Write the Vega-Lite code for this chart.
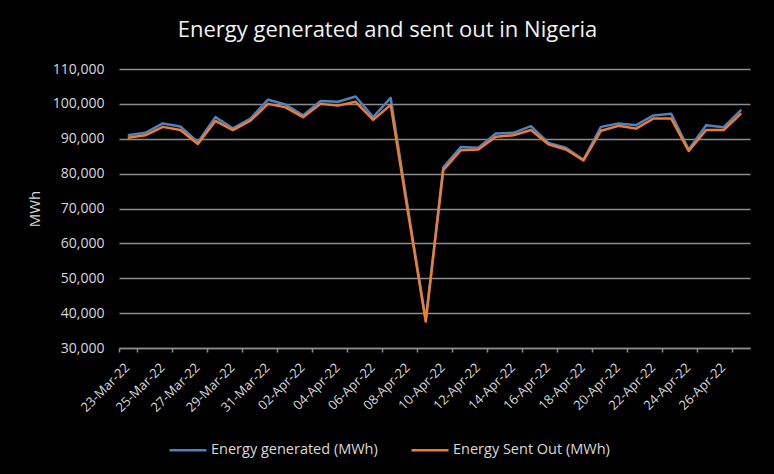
{
  "$schema": "https://vega.github.io/schema/vega-lite/v6.json",
  "background": "#000000",
  "autosize": {"type": "none"},
  "padding": {"left": 119, "top": 69, "right": 24, "bottom": 126},
  "width": 631,
  "height": 279,
  "title": {
    "text": "Energy generated and sent out in Nigeria",
    "anchor": "middle",
    "frame": "group",
    "dx": -47,
    "offset": 20,
    "font": "Open Sans",
    "fontSize": 22,
    "fontWeight": "normal",
    "color": "#f2f2f2"
  },
  "data": {
    "values": [
      {"date": "23-Mar-22", "series": "Energy generated (MWh)", "mwh": 91000},
      {"date": "24-Mar-22", "series": "Energy generated (MWh)", "mwh": 91700},
      {"date": "25-Mar-22", "series": "Energy generated (MWh)", "mwh": 94400},
      {"date": "26-Mar-22", "series": "Energy generated (MWh)", "mwh": 93500},
      {"date": "27-Mar-22", "series": "Energy generated (MWh)", "mwh": 89000},
      {"date": "28-Mar-22", "series": "Energy generated (MWh)", "mwh": 96200},
      {"date": "29-Mar-22", "series": "Energy generated (MWh)", "mwh": 93000},
      {"date": "30-Mar-22", "series": "Energy generated (MWh)", "mwh": 95800},
      {"date": "31-Mar-22", "series": "Energy generated (MWh)", "mwh": 101200},
      {"date": "01-Apr-22", "series": "Energy generated (MWh)", "mwh": 99800},
      {"date": "02-Apr-22", "series": "Energy generated (MWh)", "mwh": 96700},
      {"date": "03-Apr-22", "series": "Energy generated (MWh)", "mwh": 100800},
      {"date": "04-Apr-22", "series": "Energy generated (MWh)", "mwh": 100600},
      {"date": "05-Apr-22", "series": "Energy generated (MWh)", "mwh": 102100},
      {"date": "06-Apr-22", "series": "Energy generated (MWh)", "mwh": 96200},
      {"date": "07-Apr-22", "series": "Energy generated (MWh)", "mwh": 101700},
      {"date": "08-Apr-22", "series": "Energy generated (MWh)", "mwh": 69500},
      {"date": "09-Apr-22", "series": "Energy generated (MWh)", "mwh": 38000},
      {"date": "10-Apr-22", "series": "Energy generated (MWh)", "mwh": 81800},
      {"date": "11-Apr-22", "series": "Energy generated (MWh)", "mwh": 87600},
      {"date": "12-Apr-22", "series": "Energy generated (MWh)", "mwh": 87400},
      {"date": "13-Apr-22", "series": "Energy generated (MWh)", "mwh": 91500},
      {"date": "14-Apr-22", "series": "Energy generated (MWh)", "mwh": 91700},
      {"date": "15-Apr-22", "series": "Energy generated (MWh)", "mwh": 93600},
      {"date": "16-Apr-22", "series": "Energy generated (MWh)", "mwh": 88800},
      {"date": "17-Apr-22", "series": "Energy generated (MWh)", "mwh": 87400},
      {"date": "18-Apr-22", "series": "Energy generated (MWh)", "mwh": 84000},
      {"date": "19-Apr-22", "series": "Energy generated (MWh)", "mwh": 93400},
      {"date": "20-Apr-22", "series": "Energy generated (MWh)", "mwh": 94400},
      {"date": "21-Apr-22", "series": "Energy generated (MWh)", "mwh": 93900},
      {"date": "22-Apr-22", "series": "Energy generated (MWh)", "mwh": 96700},
      {"date": "23-Apr-22", "series": "Energy generated (MWh)", "mwh": 97200},
      {"date": "24-Apr-22", "series": "Energy generated (MWh)", "mwh": 86900},
      {"date": "25-Apr-22", "series": "Energy generated (MWh)", "mwh": 93900},
      {"date": "26-Apr-22", "series": "Energy generated (MWh)", "mwh": 93300},
      {"date": "27-Apr-22", "series": "Energy generated (MWh)", "mwh": 98300},
      {"date": "23-Mar-22", "series": "Energy Sent Out (MWh)", "mwh": 90300},
      {"date": "24-Mar-22", "series": "Energy Sent Out (MWh)", "mwh": 91000},
      {"date": "25-Mar-22", "series": "Energy Sent Out (MWh)", "mwh": 93400},
      {"date": "26-Mar-22", "series": "Energy Sent Out (MWh)", "mwh": 92500},
      {"date": "27-Mar-22", "series": "Energy Sent Out (MWh)", "mwh": 88500},
      {"date": "28-Mar-22", "series": "Energy Sent Out (MWh)", "mwh": 95100},
      {"date": "29-Mar-22", "series": "Energy Sent Out (MWh)", "mwh": 92500},
      {"date": "30-Mar-22", "series": "Energy Sent Out (MWh)", "mwh": 95200},
      {"date": "31-Mar-22", "series": "Energy Sent Out (MWh)", "mwh": 100000},
      {"date": "01-Apr-22", "series": "Energy Sent Out (MWh)", "mwh": 99000},
      {"date": "02-Apr-22", "series": "Energy Sent Out (MWh)", "mwh": 96200},
      {"date": "03-Apr-22", "series": "Energy Sent Out (MWh)", "mwh": 100000},
      {"date": "04-Apr-22", "series": "Energy Sent Out (MWh)", "mwh": 99500},
      {"date": "05-Apr-22", "series": "Energy Sent Out (MWh)", "mwh": 100600},
      {"date": "06-Apr-22", "series": "Energy Sent Out (MWh)", "mwh": 95400},
      {"date": "07-Apr-22", "series": "Energy Sent Out (MWh)", "mwh": 99700},
      {"date": "08-Apr-22", "series": "Energy Sent Out (MWh)", "mwh": 68500},
      {"date": "09-Apr-22", "series": "Energy Sent Out (MWh)", "mwh": 37600},
      {"date": "10-Apr-22", "series": "Energy Sent Out (MWh)", "mwh": 81000},
      {"date": "11-Apr-22", "series": "Energy Sent Out (MWh)", "mwh": 86700},
      {"date": "12-Apr-22", "series": "Energy Sent Out (MWh)", "mwh": 86900},
      {"date": "13-Apr-22", "series": "Energy Sent Out (MWh)", "mwh": 90600},
      {"date": "14-Apr-22", "series": "Energy Sent Out (MWh)", "mwh": 91000},
      {"date": "15-Apr-22", "series": "Energy Sent Out (MWh)", "mwh": 92500},
      {"date": "16-Apr-22", "series": "Energy Sent Out (MWh)", "mwh": 88400},
      {"date": "17-Apr-22", "series": "Energy Sent Out (MWh)", "mwh": 86900},
      {"date": "18-Apr-22", "series": "Energy Sent Out (MWh)", "mwh": 83800},
      {"date": "19-Apr-22", "series": "Energy Sent Out (MWh)", "mwh": 92300},
      {"date": "20-Apr-22", "series": "Energy Sent Out (MWh)", "mwh": 93700},
      {"date": "21-Apr-22", "series": "Energy Sent Out (MWh)", "mwh": 92900},
      {"date": "22-Apr-22", "series": "Energy Sent Out (MWh)", "mwh": 95800},
      {"date": "23-Apr-22", "series": "Energy Sent Out (MWh)", "mwh": 95800},
      {"date": "24-Apr-22", "series": "Energy Sent Out (MWh)", "mwh": 86500},
      {"date": "25-Apr-22", "series": "Energy Sent Out (MWh)", "mwh": 92500},
      {"date": "26-Apr-22", "series": "Energy Sent Out (MWh)", "mwh": 92500},
      {"date": "27-Apr-22", "series": "Energy Sent Out (MWh)", "mwh": 97300}
    ]
  },
  "mark": {"type": "line", "strokeWidth": 2.5, "strokeJoin": "round", "interpolate": "linear"},
  "encoding": {
    "x": {
      "field": "date",
      "type": "ordinal",
      "sort": null,
      "bandPosition": 0.5,
      "scale": {"type": "band", "paddingInner": 0, "paddingOuter": 0},
      "axis": {
        "title": null,
        "values": ["23-Mar-22", "25-Mar-22", "27-Mar-22", "29-Mar-22", "31-Mar-22", "02-Apr-22", "04-Apr-22", "06-Apr-22", "08-Apr-22", "10-Apr-22", "12-Apr-22", "14-Apr-22", "16-Apr-22", "18-Apr-22", "20-Apr-22", "22-Apr-22", "24-Apr-22", "26-Apr-22"],
        "tickBand": "extent",
        "labelAngle": -45,
        "labelAlign": "right",
        "labelBaseline": "top",
        "labelPadding": 9,
        "labelOffset": -5,
        "labelFont": "Open Sans",
        "labelFontSize": 13,
        "labelColor": "#d9d9d9",
        "domainColor": "#8c8c8c",
        "domainWidth": 1.5,
        "tickColor": "#8c8c8c",
        "tickWidth": 1.5,
        "tickSize": 4,
        "grid": false
      }
    },
    "y": {
      "field": "mwh",
      "type": "quantitative",
      "scale": {"domain": [30000, 110000], "nice": false, "zero": false},
      "axis": {
        "title": "MWh",
        "values": [30000, 40000, 50000, 60000, 70000, 80000, 90000, 100000, 110000],
        "format": ",d",
        "domain": false,
        "ticks": false,
        "grid": true,
        "gridColor": "#8c8c8c",
        "gridWidth": 1.5,
        "labelPadding": 15,
        "labelFont": "Open Sans",
        "labelFontSize": 14,
        "labelColor": "#d9d9d9",
        "titleFont": "Open Sans",
        "titleFontSize": 15,
        "titleFontWeight": "normal",
        "titleColor": "#d9d9d9",
        "titlePadding": 10
      }
    },
    "color": {
      "field": "series",
      "type": "nominal",
      "sort": ["Energy generated (MWh)", "Energy Sent Out (MWh)"],
      "scale": {"domain": ["Energy generated (MWh)", "Energy Sent Out (MWh)"], "range": ["#4f81bd", "#ed7d31"]},
      "legend": {
        "title": null,
        "orient": "none",
        "direction": "horizontal",
        "legendX": 49,
        "legendY": 361,
        "symbolType": "stroke",
        "symbolSize": 1369,
        "symbolStrokeWidth": 2.5,
        "labelOffset": 3,
        "labelLimit": 300,
        "labelFont": "Open Sans",
        "labelFontSize": 14.5,
        "labelColor": "#d9d9d9",
        "columnPadding": 28
      }
    }
  },
  "config": {
    "view": {"stroke": null}
  }
}
